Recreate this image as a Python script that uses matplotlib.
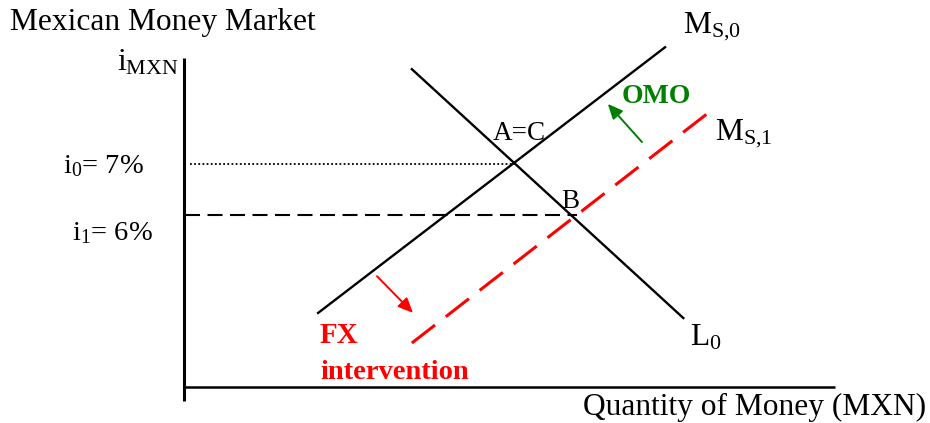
import matplotlib
matplotlib.use("Agg")
import matplotlib.pyplot as plt

plt.rcParams['font.family'] = ['Liberation Serif', 'DejaVu Serif']
plt.rcParams['mathtext.fontset'] = 'custom'
plt.rcParams['mathtext.rm'] = 'Liberation Serif'
plt.rcParams['mathtext.it'] = 'Liberation Serif:italic'
plt.rcParams['mathtext.bf'] = 'Liberation Serif:bold'

# ---- data (quantity of money, interest rate %) ----
ms0_q = [20.6, 73.9]
ms0_i = [4.08, 9.29]
ms1_q = [35.0, 80.5]
ms1_i = [3.49, 8.00]
l0_q = [35.0, 76.7]
l0_i = [8.86, 3.98]
i0_rate = 7.0
i1_rate = 6.0
q_A = 50.8
q_B = 60.3
omo_arrow_q = [70.35, 65.1]
omo_arrow_i = [7.43, 8.18]
fx_arrow_q = [29.65, 35.18]
fx_arrow_i = [4.80, 4.08]
yaxis_i = [2.35, 9.08]
xaxis_q = [0, 100]
xaxis_i = 2.62

W, H = 930, 423
fig = plt.figure(figsize=(W / 100, H / 100), dpi=100)
ax = fig.add_axes([0, 0, 1, 1])
ax.set_xlim(-28.26, 114.59)
ax.set_ylim(1.922, 10.216)
ax.axis('off')

def P(px, py):
    """pixel position (from top-left) -> data coords, for text placement"""
    return (px - 184) / 6.51, 7 - (py - 164) / 51.0

# axes
ax.plot([0, 0], yaxis_i, color='black', lw=2.2, solid_capstyle='butt')
ax.plot(xaxis_q, [xaxis_i, xaxis_i], color='black', lw=1.8, solid_capstyle='butt')

# guide lines
ax.plot([1.0, q_A], [i0_rate, i0_rate], color='black', lw=1.3, linestyle=(0, (1, 1.3)))
ax.plot([0.2, q_B], [i1_rate, i1_rate], color='black', lw=1.5, linestyle=(0, (7.2, 3.6)))

# curves
ax.plot(ms0_q, ms0_i, color='black', lw=1.7)
ax.plot(l0_q, l0_i, color='black', lw=1.7)
ax.plot(ms1_q, ms1_i, color='#ff0000', lw=2.2, linestyle=(0, (9.6, 4.45)))

# arrows
ax.annotate('', xy=(omo_arrow_q[1], omo_arrow_i[1]), xytext=(omo_arrow_q[0], omo_arrow_i[0]),
            arrowprops=dict(arrowstyle='-|>,head_length=0.9,head_width=0.4', color='#008000', lw=1.4,
                            shrinkA=0, shrinkB=0))
ax.annotate('', xy=(fx_arrow_q[1], fx_arrow_i[1]), xytext=(fx_arrow_q[0], fx_arrow_i[0]),
            arrowprops=dict(arrowstyle='-|>,head_length=0.9,head_width=0.4', color='#ff0000', lw=1.4,
                            shrinkA=0, shrinkB=0))

fs = 22.6
ax.text(*P(10, 30), 'Mexican Money Market', fontsize=fs, va='baseline', ha='left')
ax.text(*P(179, 70), r'i$_{\mathrm{MXN}}$', fontsize=fs, va='baseline', ha='right')
ax.text(*P(63, 173), r'i$_{0}$= 7%', fontsize=20.5, va='baseline', ha='left')
ax.text(*P(72, 240), r'i$_{1}$= 6%', fontsize=20.5, va='baseline', ha='left')
ax.text(*P(683, 33), r'M$_{\mathrm{S{,}0}}$', fontsize=fs, va='baseline', ha='left')
ax.text(*P(715, 140), r'M$_{\mathrm{S{,}1}}$', fontsize=fs, va='baseline', ha='left')
ax.text(*P(690, 345), r'L$_{0}$', fontsize=fs, va='baseline', ha='left')
ax.text(*P(493, 140), 'A=C', fontsize=19.5, va='baseline', ha='left')
ax.text(*P(561, 208), 'B', fontsize=19.5, va='baseline', ha='left')
ax.text(*P(622, 103), 'OMO', fontsize=20, fontweight='bold', color='#008000', va='baseline', ha='left')
ax.text(*P(320, 343), 'FX', fontsize=21, fontweight='bold', color='#ff0000', va='baseline', ha='left')
ax.text(*P(320, 379), 'intervention', fontsize=20.5, fontweight='bold', color='#ff0000', va='baseline', ha='left')
ax.text(*P(926, 415), 'Quantity of Money (MXN)', fontsize=fs, va='baseline', ha='right')

fig.savefig('out.png', dpi=100)
